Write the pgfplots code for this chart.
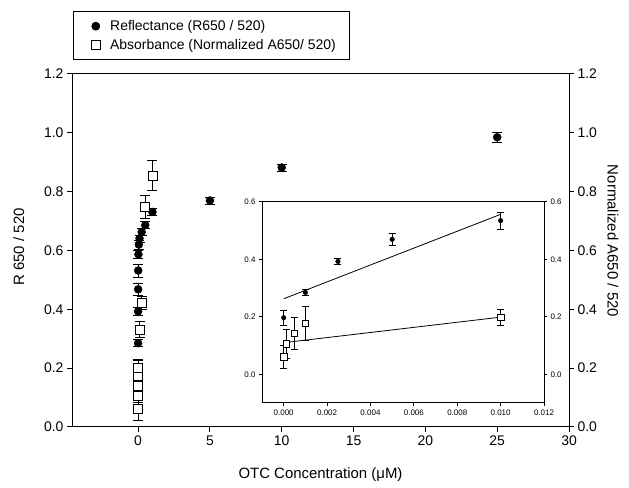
\documentclass[border=0pt]{standalone}
\usepackage{fontspec}
\setmainfont{Liberation Sans}
\usepackage{pgfplots}
\pgfplotsset{compat=1.18}

\pgfplotstableread{
x y e
0.001 0.285 0.012
0.0025 0.393 0.012
0.005 0.468 0.02
0.01 0.532 0.022
0.025 0.587 0.015
0.05 0.620 0.015
0.1 0.641 0.012
0.25 0.663 0.012
0.5 0.686 0.012
1 0.731 0.012
5 0.770 0.012
10 0.882 0.012
25 0.985 0.018
}\mainR
\pgfplotstableread{
x y e
0 0.061 0.04
0.0001 0.106 0.05
0.0005 0.140 0.055
0.001 0.173 0.058
0.01 0.200 0.025
0.1 0.331 0.028
0.25 0.421 0.022
0.5 0.748 0.04
1 0.855 0.05
}\mainA
\pgfplotstableread{
x y e
0 0.197 0.025
0.001 0.285 0.01
0.0025 0.393 0.01
0.005 0.470 0.02
0.010 0.535 0.03
}\insR
\pgfplotstableread{
x y e
0 0.060 0.04
0.00013 0.107 0.05
0.0005 0.142 0.055
0.001 0.177 0.058
0.010 0.198 0.027
}\insA

\pgfplotsset{
  base/.style={scale only axis, axis line style={line width=1bp, black},
    tick style={line width=1bp, black}, tick align=outside,
    /pgf/number format/assume math mode=true},
  mainpos/.style={at={(72bp,61bp)}, anchor=south west, width=497bp, height=353bp,
    xmin=-4.6, xmax=30, ymin=0, ymax=1.2, major tick length=5bp,
    ytick={0,0.2,0.4,0.6,0.8,1.0,1.2},
    yticklabel style={/pgf/number format/.cd, fixed, fixed zerofill, precision=1},
    tick label style={font=\fontsize{14}{14}\selectfont},
    label style={font=\fontsize{15}{15}\selectfont}},
  inspos/.style={at={(262bp,85bp)}, anchor=south west, width=282bp, height=201bp,
    xmin=-0.001, xmax=0.012, ymin=-0.1, ymax=0.6, major tick length=3bp,
    ytick={0,0.2,0.4,0.6},
    yticklabel style={/pgf/number format/.cd, fixed, fixed zerofill, precision=1},
    tick label style={font=\fontsize{8}{8}\selectfont}},
}

\begin{document}
\begin{tikzpicture}[x=1bp,y=1bp]
\path[use as bounding box] (0,0) rectangle (629,488);

\begin{axis}[base, mainpos,
  xtick={0,5,10,15,20,25,30}, xtick pos=bottom, ytick pos=left,
  xlabel={OTC Concentration (μM)},
  ylabel={R 650 / 520},
  xlabel style={at={(axis description cs:0.5,-0.135)}, anchor=center},
  ylabel style={at={(axis description cs:-0.107,0.51)}, anchor=center, rotate=0},
  legend style={at={(axis description cs:0.002,1.1785)}, anchor=north west,
    draw=black, line width=0.8bp, font=\fontsize{14}{16}\selectfont,
    inner xsep=12bp, inner ysep=7bp, row sep=3bp, cells={anchor=west}},
  legend cell align=left,
  legend image code/.code={\path (0bp,0bp) (22bp,0bp); \draw[#1] plot coordinates {(10bp,0bp)};},
  error bars/error bar style={line width=0.8bp, black},
  error bars/error mark options={rotate=90, line width=0.8bp, black, mark size=5bp},
]
\addplot[only marks, mark=*, mark size=4bp, black,
  error bars/.cd, y dir=both, y explicit]
  table[x=x, y=y, y error=e] {\mainR};
\addlegendentry{Reflectance (R650 / 520)}
\addplot[only marks, mark=square*, mark size=4.5bp, black, line width=0.8bp,
  mark options={fill=white},
  error bars/.cd, y dir=both, y explicit]
  table[x=x, y=y, y error=e] {\mainA};
\addlegendentry{Absorbance (Normalized A650/ 520)}
\end{axis}

\begin{axis}[base, mainpos, axis x line=none, axis y line*=right,
  ylabel={Normalized A650 / 520},
  ylabel style={at={(axis description cs:1.0885,0.527)}, anchor=center, rotate=180},
]
\addplot[draw=none] coordinates {(0,0)};
\end{axis}

\begin{axis}[base, inspos,
  xtick={0,0.002,0.004,0.006,0.008,0.010,0.012}, scaled x ticks=false,
  xticklabel style={/pgf/number format/.cd, fixed, fixed zerofill, precision=3},
  xtick pos=bottom, ytick pos=left,
  error bars/error bar style={line width=0.7bp, black},
  error bars/error mark options={rotate=90, line width=0.7bp, black, mark size=3.5bp},
]
\addplot[black, line width=0.8bp] coordinates {(0,0.263) (0.010,0.557)};
\addplot[black, line width=0.8bp] coordinates {(0,0.110) (0.010,0.199)};
\addplot[only marks, mark=*, mark size=2.3bp, black,
  error bars/.cd, y dir=both, y explicit]
  table[x=x, y=y, y error=e] {\insR};
\addplot[only marks, mark=square*, mark size=3.3bp, black, line width=0.7bp,
  mark options={fill=white},
  error bars/.cd, y dir=both, y explicit]
  table[x=x, y=y, y error=e] {\insA};
\end{axis}

\begin{axis}[base, inspos, axis x line=none, axis y line*=right]
\addplot[draw=none] coordinates {(0,0)};
\end{axis}
\end{tikzpicture}
\end{document}
